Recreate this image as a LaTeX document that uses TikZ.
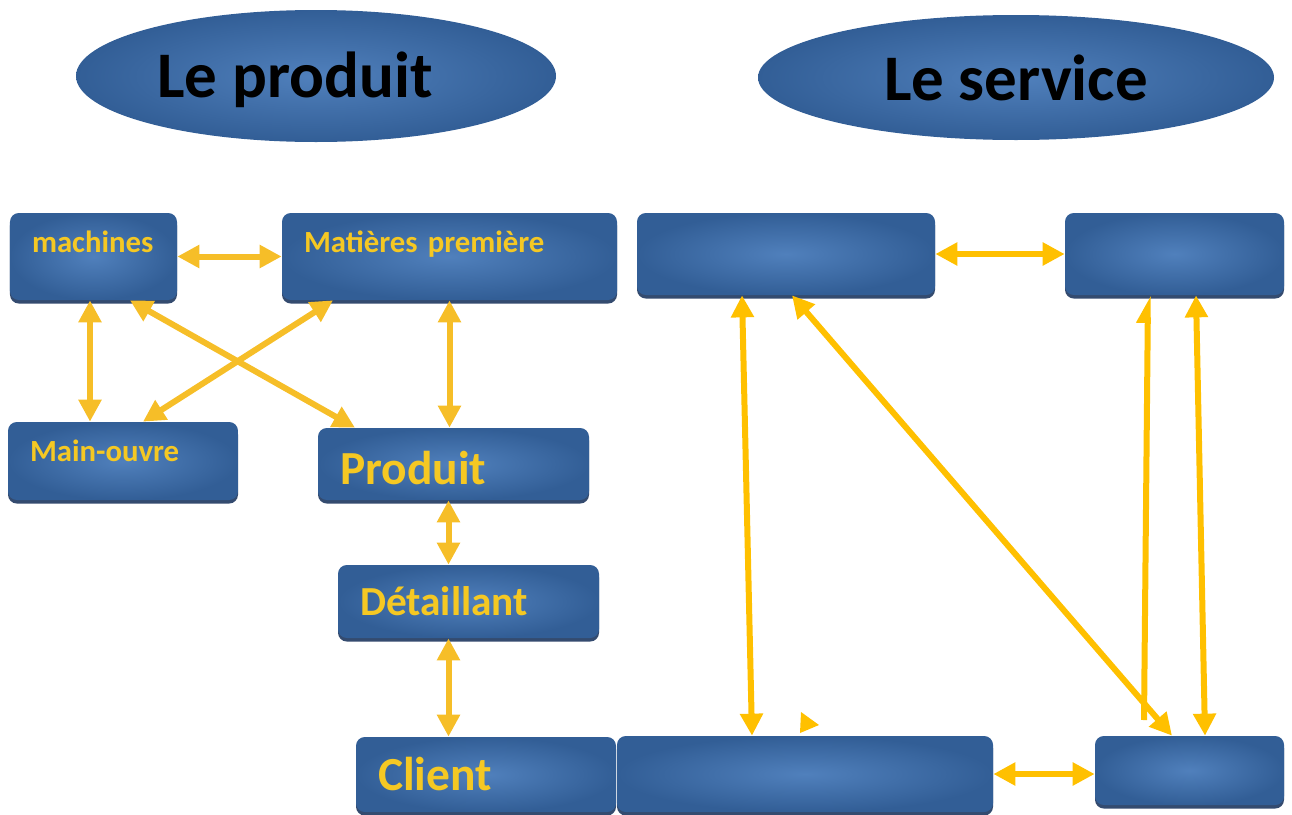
\documentclass[tikz,border=0pt]{standalone}
\usepackage{fontspec}
\setmainfont{Carlito}
\usetikzlibrary{shapes.geometric, arrows.meta, positioning, shadows}
\definecolor{Bleu}{RGB}{50, 94, 150}
\definecolor{BleuClair}{RGB}{80, 128, 188}
\definecolor{Ombre}{RGB}{30, 55, 95}
\definecolor{Jaune}{RGB}{255, 192, 0}
\definecolor{Or}{RGB}{246, 190, 40}
\definecolor{Texte}{RGB}{245, 200, 35}

\begin{document}
\begin{tikzpicture}[
        bloc/.style={
            rectangle,
            rounded corners=5pt,
            shading=radial,
            inner color=BleuClair,
            outer color=Bleu,
            drop shadow={shadow xshift=0pt, shadow yshift=-2pt, fill=Ombre, opacity=0.9},
            inner xsep=0.44cm,
            inner ysep=0pt,
            align=left,
            text=Texte,
            font=\bfseries\fontsize{17.5}{20}\selectfont
        },
        grand/.style={
            font=\bfseries\fontsize{27}{30}\selectfont
        },
        bulle/.style={
            ellipse,
            inner sep=0pt,
            shading=radial,
            inner color=BleuClair,
            outer color=Bleu
        },
        titre/.style={
            anchor=base,
            text=black,
            font=\bfseries\fontsize{37}{42}\selectfont
        },
        fleche/.style={
            {Triangle[length=0.44cm, width=0.44cm]}-{Triangle[length=0.44cm, width=0.44cm]},
            line width=0.12cm,
            draw=Jaune
        },
        demi/.style={
            -{Triangle[length=0.44cm, width=0.44cm, harpoon]},
            line width=0.12cm,
            draw=Jaune
        }
    ]
        \useasboundingbox (0, 0) rectangle (25.84, -16.28);

        % Titles
        \node[bulle, minimum width=9.6cm, minimum height=2.64cm] (bProd) at (6.32, -1.52) {};
        \node[titre] (tProd) at (5.9, -1.94) {Le produit};
        \node[bulle, minimum width=10.32cm, minimum height=2.5cm] (bServ) at (20.32, -1.55) {};
        \node[titre] (tServ) at (20.32, -2.0) {Le service};

        % Product side
        \node[bloc, text width=2.46cm, minimum height=1.74cm, text height=0.4cm, text depth=0.58cm] (mach) at (1.87, -5.13) {machines};
        \node[bloc, text width=5.82cm, minimum height=1.74cm, text height=0.4cm, text depth=0.58cm] (mat) at (8.99, -5.13) {Matières première};
        \node[bloc, text width=3.72cm, minimum height=1.56cm, text height=0.4cm, text depth=0.4cm] (main) at (2.46, -9.22) {Main-ouvre};
        \node[bloc, grand, text width=4.54cm, minimum height=1.44cm, text height=0.8cm, text depth=0cm] (prod) at (9.07, -9.28) {Produit};
        \node[bloc, font=\bfseries\fontsize{23.5}{26}\selectfont, text width=4.34cm, minimum height=1.46cm, text height=0.6cm, text depth=0.06cm] (det) at (9.37, -12.03) {Détaillant};
        \node[bloc, grand, text width=4.32cm, minimum height=1.5cm, text height=0.65cm, text depth=0.03cm] (client) at (9.72, -15.49) {Client};

        % Service side (empty boxes)
        \node[bloc, minimum width=5.96cm, minimum height=1.64cm] (sTL) at (15.72, -5.08) {};
        \node[bloc, minimum width=4.38cm, minimum height=1.64cm] (sTR) at (23.49, -5.08) {};
        \node[bloc, minimum width=7.52cm, minimum height=1.52cm] (sBL) at (16.1, -15.48) {};
        \node[bloc, minimum width=3.78cm, minimum height=1.38cm] (sBR) at (23.79, -15.41) {};
        \coordinate (pied) at (22.88, -14.4);

        % Arrows of the product chain
        \draw[fleche, draw=Or] (mach.east) -- (mat.west);
        \draw[fleche, draw=Or] ([xshift=-0.07cm]mach.south) -- ([xshift=-0.07cm]mach.south |- main.north);
        \draw[fleche, draw=Or] ([xshift=0.73cm]mach.south) -- ([xshift=-1.97cm]prod.north);
        \draw[fleche, draw=Or] ([xshift=-2.33cm]mat.south) -- ([xshift=0.4cm]main.north);
        \draw[fleche, draw=Or] (mat.south) -- (mat.south |- prod.north);
        \draw[fleche, draw=Or] ([xshift=-0.1cm]prod.south) -- ([xshift=-0.1cm]prod.south |- det.north);
        \draw[fleche, draw=Or] ([xshift=-0.4cm]det.south) -- ([xshift=-0.4cm]det.south |- client.north);

        % Arrows of the service side
        \draw[fleche] (sTL.east) -- (sTR.west);
        \draw[fleche] ([xshift=-0.88cm]sTL.south) -- ([xshift=-1.06cm]sBL.north);
        \draw[fleche] ([xshift=0.12cm]sTL.south) -- ([xshift=-0.35cm]sBR.north);
        \draw[demi] (pied) -- ([xshift=-0.53cm]sTR.south);
        \draw[fleche] ([xshift=0.43cm]sTR.south) -- ([xshift=0.31cm]sBR.north);
        \draw[fleche] (sBL.east) -- (sBL.east -| sBR.west);
        \fill[Jaune] (16.02, -14.24) -- (16.38, -14.5) -- (16.0, -14.66) -- cycle;
    \end{tikzpicture}
\end{document}
